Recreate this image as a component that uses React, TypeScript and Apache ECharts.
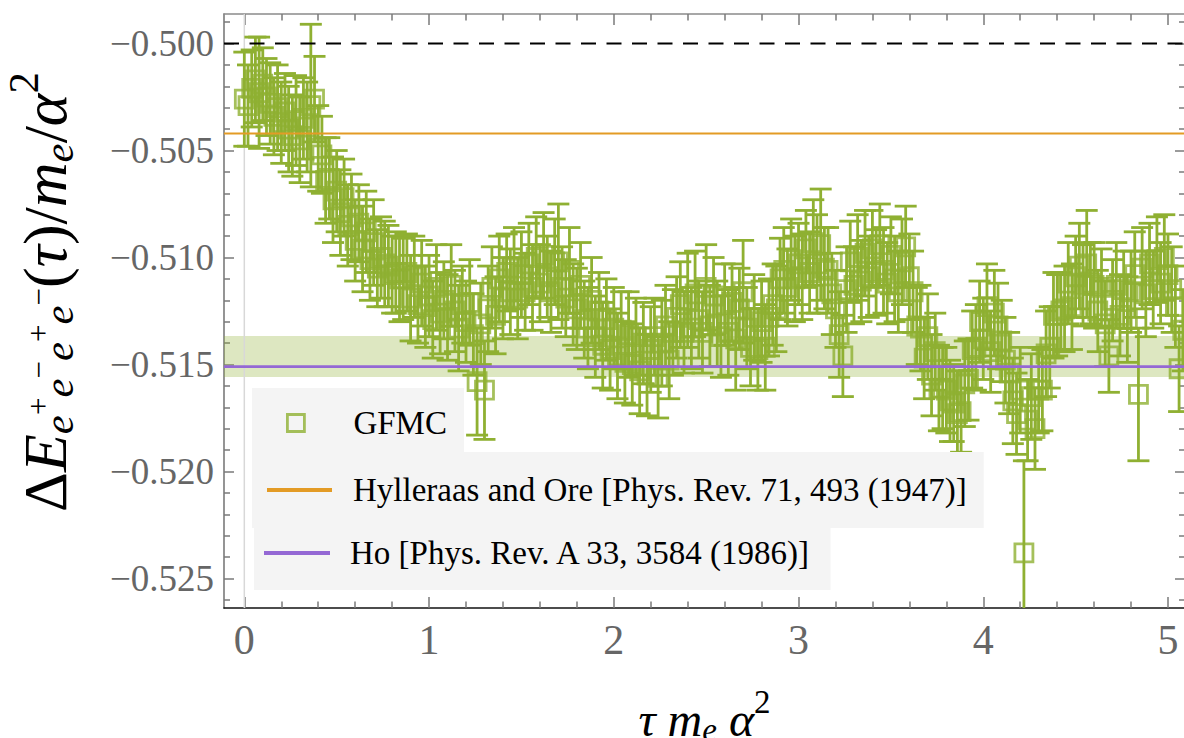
import React, { useEffect, useRef } from 'react';
import * as echarts from 'echarts';

// ---------- data ----------
const TAU_STEP = 0.02; // imaginary-time grid spacing (tau m_e alpha^2)

const E_TAU_0 = [
  -0.5026, -0.5029, -0.5021, -0.5017, -0.5023, -0.5019, -0.5025, -0.5028, -0.5034, -0.5030,
  -0.5037, -0.5032, -0.5040, -0.5043, -0.5036, -0.5045, -0.5035, -0.5039, -0.5029, -0.5026,
  -0.5049, -0.5052, -0.5064, -0.5063, -0.5073, -0.5069, -0.5079, -0.5072, -0.5085, -0.5081,
  -0.5092, -0.5084, -0.5096, -0.5088, -0.5101, -0.5093, -0.5105, -0.5100, -0.5103, -0.5104,
  -0.5108, -0.5107, -0.5110, -0.5110, -0.5107, -0.5119, -0.5109, -0.5122, -0.5112, -0.5123,
];
const E_TAU_1 = [
  -0.5118, -0.5129, -0.5114, -0.5126, -0.5120, -0.5128, -0.5113, -0.5125, -0.5133, -0.5122,
  -0.5130, -0.5121, -0.5136, -0.5158, -0.5131, -0.5162, -0.5124, -0.5114, -0.5127, -0.5110,
  -0.5119, -0.5107, -0.5116, -0.5105, -0.5119, -0.5108, -0.5116, -0.5103, -0.5114, -0.5100,
  -0.5112, -0.5099, -0.5109, -0.5116, -0.5102, -0.5102, -0.5114, -0.5119, -0.5106, -0.5122,
  -0.5124, -0.5113, -0.5129, -0.5133, -0.5120, -0.5137, -0.5125, -0.5141, -0.5129, -0.5143,
];
const E_TAU_2 = [
  -0.5133, -0.5146, -0.5134, -0.5149, -0.5136, -0.5150, -0.5137, -0.5153, -0.5140, -0.5155,
  -0.5143, -0.5137, -0.5156, -0.5140, -0.5132, -0.5148, -0.5135, -0.5128, -0.5122, -0.5135,
  -0.5120, -0.5133, -0.5117, -0.5129, -0.5135, -0.5114, -0.5132, -0.5118, -0.5131, -0.5137,
  -0.5122, -0.5135, -0.5121, -0.5138, -0.5124, -0.5116, -0.5133, -0.5142, -0.5128, -0.5143,
  -0.5130, -0.5142, -0.5128, -0.5122, -0.5124, -0.5110, -0.5106, -0.5114, -0.5101, -0.5110,
];
const E_TAU_3 = [
  -0.5103, -0.5109, -0.5096, -0.5107, -0.5093, -0.5103, -0.5094, -0.5105, -0.5106, -0.5117,
  -0.5124, -0.5136, -0.5146, -0.5115, -0.5102, -0.5113, -0.5100, -0.5111, -0.5098, -0.5109,
  -0.5096, -0.5107, -0.5094, -0.5106, -0.5112, -0.5099, -0.5110, -0.5116, -0.5102, -0.5095,
  -0.5109, -0.5116, -0.5132, -0.5133, -0.5147, -0.5137, -0.5155, -0.5144, -0.5161, -0.5161,
  -0.5162, -0.5167, -0.5168, -0.5173, -0.5172, -0.5159, -0.5157, -0.5143, -0.5142, -0.5130,
];
const E_TAU_4 = [
  -0.5138, -0.5123, -0.5144, -0.5126, -0.5132, -0.5139, -0.5148, -0.5154, -0.5167, -0.5173,
  -0.5162, -0.5238, -0.5176, -0.5165, -0.5180, -0.5162, -0.5162, -0.5145, -0.5142, -0.5127,
  -0.5127, -0.5125, -0.5124, -0.5112, -0.5123, -0.5109, -0.5104, -0.5113, -0.5103, -0.5112,
  -0.5113, -0.5125, -0.5114, -0.5131, -0.5146, -0.5120, -0.5113, -0.5127, -0.5115, -0.5129,
  -0.5116, -0.5108, -0.5164, -0.5105, -0.5117, -0.5103, -0.5115, -0.5101, -0.5112, -0.5100,
];
const E_TAU_5 = [-0.5108, -0.5115, -0.5123, -0.5152, -0.5134];

const ERR_TAU_0 = [
  0.0022, 0.0019, 0.0018, 0.0020, 0.0026, 0.0017, 0.0018, 0.0019, 0.0018, 0.0020,
  0.0019, 0.0018, 0.0020, 0.0019, 0.0021, 0.0020, 0.0019, 0.0021, 0.0038, 0.0020,
  0.0020, 0.0018, 0.0020, 0.0019, 0.0020, 0.0019, 0.0020, 0.0018, 0.0019, 0.0020,
  0.0019, 0.0018, 0.0020, 0.0019, 0.0019, 0.0020, 0.0018, 0.0019, 0.0020, 0.0019,
  0.0018, 0.0019, 0.0020, 0.0019, 0.0018, 0.0020, 0.0019, 0.0018, 0.0020, 0.0019,
];
const ERR_TAU_1 = [
  0.0019, 0.0018, 0.0020, 0.0019, 0.0018, 0.0020, 0.0019, 0.0019, 0.0020, 0.0018,
  0.0019, 0.0020, 0.0019, 0.0025, 0.0019, 0.0023, 0.0020, 0.0019, 0.0018, 0.0020,
  0.0019, 0.0018, 0.0020, 0.0019, 0.0019, 0.0020, 0.0018, 0.0019, 0.0020, 0.0019,
  0.0018, 0.0020, 0.0019, 0.0019, 0.0020, 0.0027, 0.0019, 0.0018, 0.0020, 0.0019,
  0.0019, 0.0020, 0.0018, 0.0019, 0.0020, 0.0019, 0.0018, 0.0020, 0.0019, 0.0019,
];
const ERR_TAU_2 = [
  0.0019, 0.0020, 0.0018, 0.0019, 0.0020, 0.0019, 0.0018, 0.0020, 0.0019, 0.0019,
  0.0020, 0.0018, 0.0019, 0.0020, 0.0019, 0.0018, 0.0020, 0.0019, 0.0020, 0.0019,
  0.0022, 0.0019, 0.0020, 0.0018, 0.0019, 0.0020, 0.0019, 0.0018, 0.0020, 0.0019,
  0.0019, 0.0020, 0.0018, 0.0024, 0.0019, 0.0024, 0.0019, 0.0018, 0.0020, 0.0019,
  0.0019, 0.0020, 0.0018, 0.0019, 0.0020, 0.0019, 0.0020, 0.0018, 0.0019, 0.0020,
];
const ERR_TAU_3 = [
  0.0019, 0.0020, 0.0018, 0.0019, 0.0020, 0.0023, 0.0026, 0.0019, 0.0020, 0.0019,
  0.0018, 0.0020, 0.0019, 0.0020, 0.0019, 0.0018, 0.0020, 0.0019, 0.0020, 0.0019,
  0.0018, 0.0020, 0.0019, 0.0020, 0.0019, 0.0018, 0.0020, 0.0019, 0.0020, 0.0019,
  0.0020, 0.0019, 0.0018, 0.0020, 0.0019, 0.0020, 0.0019, 0.0018, 0.0020, 0.0019,
  0.0020, 0.0019, 0.0018, 0.0020, 0.0019, 0.0020, 0.0019, 0.0018, 0.0020, 0.0019,
];
const ERR_TAU_4 = [
  0.0019, 0.0020, 0.0019, 0.0020, 0.0020, 0.0019, 0.0020, 0.0019, 0.0020, 0.0019,
  0.0020, 0.0043, 0.0019, 0.0020, 0.0019, 0.0020, 0.0019, 0.0020, 0.0019, 0.0020,
  0.0019, 0.0018, 0.0020, 0.0019, 0.0020, 0.0019, 0.0020, 0.0019, 0.0025, 0.0019,
  0.0020, 0.0019, 0.0018, 0.0020, 0.0017, 0.0019, 0.0020, 0.0019, 0.0018, 0.0020,
  0.0019, 0.0020, 0.0031, 0.0019, 0.0020, 0.0019, 0.0018, 0.0020, 0.0019, 0.0020,
];
const ERR_TAU_5 = [0.0019, 0.0020, 0.0019, 0.0020, 0.0019];

const TWO_PS = -0.5;               // dashed reference line
const HYLLERAAS_ORE = -0.5042;     // orange line
const HO_1986 = -0.5151;           // purple line
const GFMC_BAND = [-0.51558, -0.51367];

const X_MIN = -0.11;
const X_MAX = 5.092;
const Y_MIN = -0.52638;
const Y_MAX = -0.49862;

const X_MAJOR = [0, 1, 2, 3, 4, 5];
const X_MINOR = [0.2, 0.4, 0.6, 0.8, 1.2, 1.4, 1.6, 1.8, 2.2, 2.4, 2.6, 2.8, 3.2, 3.4, 3.6, 3.8, 4.2, 4.4, 4.6, 4.8];
const Y_MAJOR = [-0.525, -0.52, -0.515, -0.51, -0.505, -0.5];
const Y_MINOR = [
  -0.526, -0.524, -0.523, -0.522, -0.521, -0.519, -0.518, -0.517, -0.516, -0.514, -0.513,
  -0.512, -0.511, -0.509, -0.508, -0.507, -0.506, -0.504, -0.503, -0.502, -0.501, -0.499,
];

const NAME_GFMC = 'GFMC';
const NAME_HO_1947 = 'Hylleraas and Ore [Phys. Rev. 71, 493 (1947)]';
const NAME_HO_1986 = 'Ho [Phys. Rev. A 33, 3584 (1986)]';

// ---------- styles ----------
const SERIF = 'Liberation Serif';
const GREEN = '#8FB032';
const ORANGE = '#E39B25';
const PURPLE = '#9468D4';
const TICK_COLOR = '#7a7a7a';
const LABEL_COLOR = '#666666';

export default function App() {
  const ref = useRef<HTMLDivElement>(null);

  useEffect(() => {
    if (!ref.current) return;
    const chart = echarts.init(ref.current, undefined, { renderer: 'svg' });

    const energies = [...E_TAU_0, ...E_TAU_1, ...E_TAU_2, ...E_TAU_3, ...E_TAU_4, ...E_TAU_5];
    const errors = [...ERR_TAU_0, ...ERR_TAU_1, ...ERR_TAU_2, ...ERR_TAU_3, ...ERR_TAU_4, ...ERR_TAU_5];
    const gfmc = energies.map((e, i) => [Number((i * TAU_STEP).toFixed(2)), e, errors[i]]);

    const xBase = {
      type: 'value', min: X_MIN, max: X_MAX, gridIndex: 0,
      splitLine: { show: false }, minorTick: { show: false }, minorSplitLine: { show: false },
    };
    const yBase = {
      type: 'value', min: Y_MIN, max: Y_MAX, gridIndex: 0,
      splitLine: { show: false }, minorTick: { show: false }, minorSplitLine: { show: false },
    };
    const tickStyle = { color: TICK_COLOR, width: 1.5 };

    const capHalf = 11;
    const barStyle = { stroke: GREEN, lineWidth: 2.8 };

    const txt = (extra: any) => ({ fontFamily: SERIF, color: '#000', verticalAlign: 'middle', ...extra });

    const option: any = {
      animation: false,
      backgroundColor: '#ffffff',
      textStyle: { fontFamily: SERIF },
      grid: { left: 224, top: 14, width: 961, height: 594, containLabel: false, outerBoundsMode: 'none' },
      legend: [
        {
          data: [{ name: NAME_GFMC, icon: 'rect', itemStyle: { color: 'rgba(0,0,0,0)', borderColor: GREEN, borderWidth: 2.8 } }],
          left: 252, top: 388, orient: 'horizontal',
          padding: [12, 17, 12, 34], itemWidth: 17, itemHeight: 17,
          backgroundColor: '#f4f4f4', selectedMode: false,
          textStyle: { fontFamily: SERIF, fontSize: 33, color: '#000', lineHeight: 40, padding: [6, 0, 0, 44] },
        },
        {
          data: [{ name: NAME_HO_1947, icon: 'rect', itemStyle: { color: ORANGE, borderWidth: 0 } }],
          left: 252, top: 452, orient: 'horizontal',
          padding: [15, 17, 15, 15], itemWidth: 65, itemHeight: 4,
          backgroundColor: '#f4f4f4', selectedMode: false,
          textStyle: { fontFamily: SERIF, fontSize: 33, color: '#000', lineHeight: 40, padding: [6, 0, 0, 16] },
        },
        {
          data: [{ name: NAME_HO_1986, icon: 'rect', itemStyle: { color: PURPLE, borderWidth: 0 } }],
          left: 254, top: 516, orient: 'horizontal',
          padding: [14, 18, 14, 10], itemWidth: 66, itemHeight: 4,
          backgroundColor: '#f4f4f4', selectedMode: false,
          textStyle: { fontFamily: SERIF, fontSize: 33, color: '#000', lineHeight: 40, padding: [6, 0, 0, 15] },
        },
      ],
      xAxis: [
        {
          ...xBase, position: 'bottom',
          axisLine: { show: true, onZero: false, lineStyle: { color: '#111', width: 1.6 } },
          axisTick: { show: true, inside: true, length: 11, customValues: X_MAJOR, lineStyle: tickStyle },
          axisLabel: { show: true, customValues: X_MAJOR, margin: 11, fontSize: 42, color: LABEL_COLOR, fontFamily: SERIF },
          name: '{i|τ }{i|m}{sb|e}{i| α}{sup|2}',
          nameLocation: 'middle', nameGap: 81,
          nameTextStyle: {
            fontFamily: SERIF, color: '#000',
            rich: {
              i: txt({ fontStyle: 'italic', fontSize: 48, lineHeight: 60 }),
              sb: txt({ fontStyle: 'italic', fontSize: 33, lineHeight: 60, padding: [22, 0, 0, 0] }),
              sup: txt({ fontSize: 33, lineHeight: 60, padding: [0, 0, 34, 0] }),
            },
          },
        },
        {
          ...xBase, position: 'bottom',
          axisLine: { show: false, onZero: false },
          axisTick: { show: true, inside: true, length: 6.5, customValues: X_MINOR, lineStyle: tickStyle },
          axisLabel: { show: false },
        },
        {
          ...xBase, position: 'top',
          axisLine: { show: true, onZero: false, lineStyle: { color: '#8a8a8a', width: 1.5 } },
          axisTick: { show: true, inside: true, length: 11, customValues: X_MAJOR, lineStyle: tickStyle },
          axisLabel: { show: false },
        },
        {
          ...xBase, position: 'top',
          axisLine: { show: false, onZero: false },
          axisTick: { show: true, inside: true, length: 6.5, customValues: X_MINOR, lineStyle: tickStyle },
          axisLabel: { show: false },
        },
      ],
      yAxis: [
        {
          ...yBase, position: 'left',
          axisLine: { show: true, onZero: false, lineStyle: { color: '#7a7a7a', width: 1.6 } },
          axisTick: { show: true, inside: true, length: 10, customValues: Y_MAJOR, lineStyle: tickStyle },
          axisLabel: {
            show: true, customValues: Y_MAJOR, margin: 10, fontSize: 37, color: LABEL_COLOR, fontFamily: SERIF,
            formatter: (v: number) => '\u2212' + Math.abs(v).toFixed(3),
          },
          name: '{r|Δ}{i|E}{sb|e}{sp|+}{sb|e}{sp|\u2212}{sb|e}{sp|+}{sb|e}{sp|\u2212}{r|(}{i|τ}{r|)/}{i|m}{sb|e}{r|/}{i|α}{sup|2}',
          nameLocation: 'middle', nameRotate: 90, nameGap: 141,
          nameTextStyle: {
            fontFamily: SERIF, color: '#000', padding: [0, 0, 0, 38],
            rich: {
              r: txt({ fontSize: 62, lineHeight: 76 }),
              i: txt({ fontStyle: 'italic', fontSize: 62, lineHeight: 76 }),
              sb: txt({ fontStyle: 'italic', fontSize: 43, lineHeight: 76, padding: [26, 0, 0, 0] }),
              sp: txt({ fontSize: 31, lineHeight: 76, padding: [0, 0, 14, 0] }),
              sup: txt({ fontSize: 43, lineHeight: 76, padding: [0, 0, 44, 0] }),
            },
          },
        },
        {
          ...yBase, position: 'left',
          axisLine: { show: false, onZero: false },
          axisTick: { show: true, inside: true, length: 6, customValues: Y_MINOR, lineStyle: tickStyle },
          axisLabel: { show: false },
        },
        {
          ...yBase, position: 'right',
          axisLine: { show: true, onZero: false, lineStyle: { color: '#8a8a8a', width: 1.5 } },
          axisTick: { show: true, inside: true, length: 10, customValues: Y_MAJOR, lineStyle: tickStyle },
          axisLabel: { show: false },
        },
        {
          ...yBase, position: 'right',
          axisLine: { show: false, onZero: false },
          axisTick: { show: true, inside: true, length: 6, customValues: Y_MINOR, lineStyle: tickStyle },
          axisLabel: { show: false },
        },
      ],
      series: [
        {
          type: 'line', name: 'tau zero', xAxisIndex: 0, yAxisIndex: 0,
          data: [[0, Y_MIN], [0, Y_MAX]], symbol: 'none', silent: true, z: 1,
          lineStyle: { color: '#d8d8d8', width: 1.5 },
          markArea: {
            silent: true,
            itemStyle: { color: 'rgba(143,176,50,0.3)' },
            data: [[{ yAxis: GFMC_BAND[1] }, { yAxis: GFMC_BAND[0] }]],
          },
        },
        {
          type: 'custom', name: 'GFMC error', xAxisIndex: 0, yAxisIndex: 0,
          data: gfmc, encode: { x: 0, y: 1 }, clip: true, silent: true, z: 2,
          renderItem: (_params: any, api: any) => {
            const x = api.value(0);
            const y = api.value(1);
            const e = api.value(2);
            const top = api.coord([x, y + e]);
            const bot = api.coord([x, y - e]);
            return {
              type: 'group',
              children: [
                { type: 'line', shape: { x1: top[0], y1: top[1], x2: bot[0], y2: bot[1] }, style: barStyle },
                { type: 'line', shape: { x1: top[0] - capHalf, y1: top[1], x2: top[0] + capHalf, y2: top[1] }, style: barStyle },
                { type: 'line', shape: { x1: bot[0] - capHalf, y1: bot[1], x2: bot[0] + capHalf, y2: bot[1] }, style: barStyle },
              ],
            };
          },
        },
        {
          type: 'scatter', name: NAME_GFMC, xAxisIndex: 0, yAxisIndex: 0,
          data: gfmc, symbol: 'rect', symbolSize: 18, silent: true, z: 3,
          itemStyle: { color: 'rgba(0,0,0,0)', borderColor: GREEN, borderWidth: 2.8 },
        },
        {
          type: 'line', name: '2Ps threshold', xAxisIndex: 0, yAxisIndex: 0,
          data: [[X_MIN, TWO_PS], [X_MAX, TWO_PS]], symbol: 'none', silent: true, z: 4,
          lineStyle: { color: '#000', width: 2, type: [15, 10.5] },
        },
        {
          type: 'line', name: NAME_HO_1947, xAxisIndex: 0, yAxisIndex: 0,
          data: [[X_MIN, HYLLERAAS_ORE], [X_MAX, HYLLERAAS_ORE]], symbol: 'none', silent: true, z: 4,
          lineStyle: { color: ORANGE, width: 2 }, itemStyle: { color: ORANGE },
        },
        {
          type: 'line', name: NAME_HO_1986, xAxisIndex: 0, yAxisIndex: 0,
          data: [[X_MIN, HO_1986], [X_MAX, HO_1986]], symbol: 'none', silent: true, z: 4,
          lineStyle: { color: PURPLE, width: 2.6 }, itemStyle: { color: PURPLE },
        },
      ],
    };

    chart.setOption(option);
    return () => chart.dispose();
  }, []);

  return (
    <div
      ref={ref}
      style={{ position: 'absolute', left: 0, top: 0, width: 1184, height: 738, background: '#fff' }}
    />
  );
}
